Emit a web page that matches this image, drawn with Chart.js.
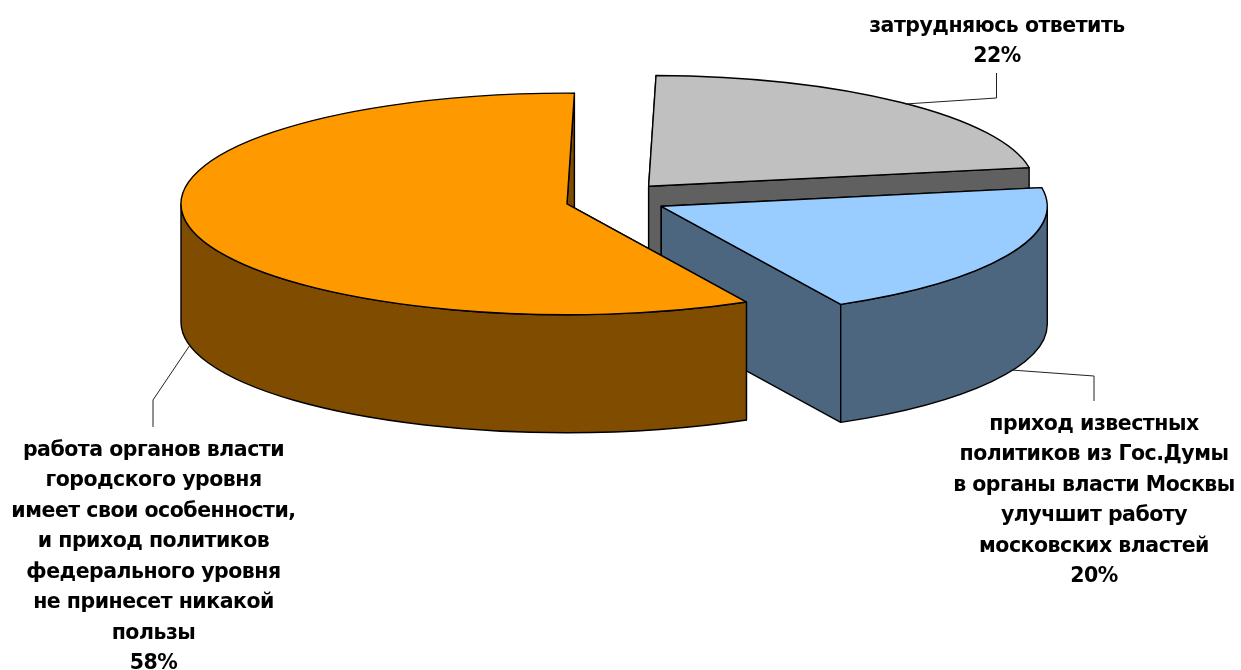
<!DOCTYPE html>
<html>
<head>
<meta charset="utf-8">
<script src="https://cdn.jsdelivr.net/npm/chart.js"></script>
<style>
  html, body { margin: 0; padding: 0; background: #fff; }
  canvas { display: block; }
</style>
</head>
<body>
<canvas id="myChart" width="1241" height="670"></canvas>
<script>
// chart data
const categories = [
  ['работа органов власти', 'городского уровня', 'имеет свои особенности,', 'и приход политиков', 'федерального уровня', 'не принесет никакой', 'пользы'],
  ['затрудняюсь ответить'],
  ['приход известных', 'политиков из Гос.Думы', 'в органы власти Москвы', 'улучшит работу', 'московских властей']
];
const values = [58, 22, 20];
const percentLabels = ['58%', '22%', '20%'];

// look of the slices
const topColors = ['#FF9900', '#C0C0C0', '#99CCFF'];
const wallColors = ['#804D00', '#606060', '#4D6680'];
const explode = [37, 70, 65];
const yNudge = [0, 0, -3.5];  // the original has some perspective, blue sits a bit higher
const RADIUS = 386;
const TILT = 0.287;     // y squash of the pie
const DEPTH = 118;      // wall height in px
const LINE_HEIGHT = 30.5;
const FONT = 'bold 20.5px "DejaVu Sans"';

// where the labels and leader lines sit
const labelCenters = [[153.5, 450.5], [997, 26.5], [1094, 424.5]];
const leaders = [
  [[190, 345], [153, 400], [153, 427]],
  [[905, 104], [996.5, 98], [996.5, 73]],
  [[1011, 370], [1094, 376], [1094, 401]]
];

const TWO_PI = Math.PI * 2;

function slicePath(ctx, cx, cy, a0, a1) {
  ctx.beginPath();
  ctx.moveTo(cx, cy);
  ctx.ellipse(cx, cy, RADIUS, RADIUS * TILT, 0, a0, a1);
  ctx.closePath();
}

function edgePoint(cx, cy, a) {
  return [cx + Math.cos(a) * RADIUS, cy + Math.sin(a) * RADIUS * TILT];
}

function cutWall(ctx, cx, cy, a) {
  const p = edgePoint(cx, cy, a);
  ctx.beginPath();
  ctx.moveTo(cx, cy);
  ctx.lineTo(p[0], p[1]);
  ctx.lineTo(p[0], p[1] + DEPTH);
  ctx.lineTo(cx, cy + DEPTH);
  ctx.closePath();
}

// the part of the rim that faces the viewer, angle 0..PI on the canvas
function outerWall(ctx, cx, cy, a0, a1) {
  let from = null, to = null;
  for (const shift of [0, TWO_PI, -TWO_PI]) {
    const s = Math.max(a0 + shift, 0);
    const e = Math.min(a1 + shift, Math.PI);
    if (e > s) { from = s; to = e; break; }
  }
  if (from === null) return false;
  ctx.beginPath();
  ctx.ellipse(cx, cy, RADIUS, RADIUS * TILT, 0, from, to);
  ctx.ellipse(cx, cy + DEPTH, RADIUS, RADIUS * TILT, 0, to, from, true);
  ctx.closePath();
  return true;
}

const pie3d = {
  id: 'pie3d',
  beforeDatasetsDraw(chart) {
    const ctx = chart.ctx;
    const arcs = chart.getDatasetMeta(0).data;
    ctx.save();
    ctx.lineWidth = 1.4;
    ctx.lineJoin = 'round';
    ctx.strokeStyle = '#000';
    // far slices first, so the order is grey, blue, orange
    [1, 2, 0].forEach(i => {
      const arc = arcs[i];
      const mid = (arc.startAngle + arc.endAngle) / 2;
      const off = arc.options.offset;
      const cx = arc.x + Math.cos(mid) * off;
      const cy = arc.y + Math.sin(mid) * off * TILT + yNudge[i];
      ctx.fillStyle = wallColors[i];
      cutWall(ctx, cx, cy, arc.startAngle); ctx.fill(); ctx.stroke();
      cutWall(ctx, cx, cy, arc.endAngle); ctx.fill(); ctx.stroke();
      if (outerWall(ctx, cx, cy, arc.startAngle, arc.endAngle)) { ctx.fill(); ctx.stroke(); }
      ctx.fillStyle = topColors[i];
      slicePath(ctx, cx, cy, arc.startAngle, arc.endAngle); ctx.fill(); ctx.stroke();
    });
    ctx.restore();
    return false;
  },
  afterDraw(chart) {
    const ctx = chart.ctx;
    ctx.save();
    ctx.strokeStyle = '#222';
    ctx.lineWidth = 1;
    leaders.forEach(pts => {
      ctx.beginPath();
      pts.forEach((p, k) => k ? ctx.lineTo(p[0], p[1]) : ctx.moveTo(p[0], p[1]));
      ctx.stroke();
    });
    ctx.fillStyle = '#000';
    ctx.font = FONT;
    ctx.letterSpacing = '-0.5px';
    ctx.textAlign = 'center';
    ctx.textBaseline = 'middle';
    categories.forEach((lines, i) => {
      const [x, y] = labelCenters[i];
      lines.concat(percentLabels[i]).forEach((t, k) => ctx.fillText(t, x, y + k * LINE_HEIGHT));
    });
    ctx.restore();
  }
};

new Chart(document.getElementById('myChart').getContext('2d'), {
  type: 'pie',
  data: {
    labels: categories.map(c => c.join(' ')),
    datasets: [{
      data: values,
      backgroundColor: topColors,
      offset: explode,
      borderWidth: 0
    }]
  },
  options: {
    responsive: false,
    animation: false,
    events: [],
    rotation: 152.3,
    radius: RADIUS,
    layout: { padding: { right: 35, bottom: 267 } },
    plugins: { legend: { display: false }, tooltip: { enabled: false } }
  },
  plugins: [pie3d]
});
</script>
</body>
</html>
